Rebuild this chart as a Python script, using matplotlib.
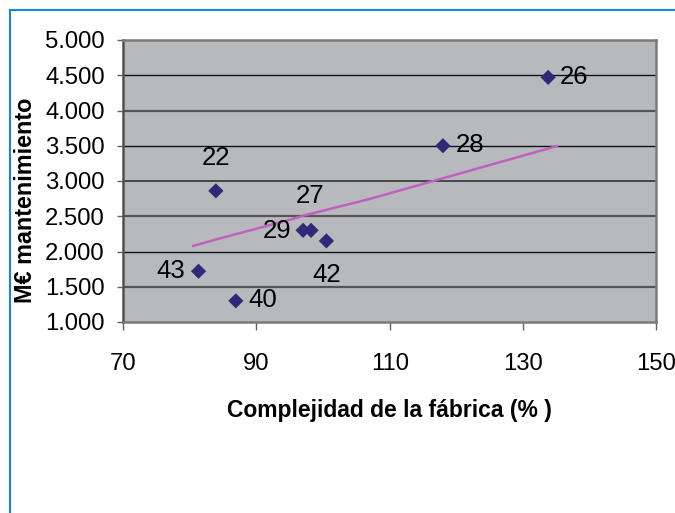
import matplotlib
matplotlib.use("Agg")
import matplotlib.pyplot as plt
from matplotlib.lines import Line2D

plt.rcParams['font.family'] = ['Liberation Sans', 'DejaVu Sans']

# Plant complexity (%) vs maintenance cost (M€), labelled by plant id
plant_ids = ["26", "28", "22", "29", "27", "42", "43", "40"]
complexity = [133.8, 118.0, 83.9, 97.0, 98.2, 100.5, 81.3, 86.9]
maintenance = [4470, 3500, 2860, 2300, 2300, 2150, 1720, 1300]

# Trend line drawn through the cloud
trend_x = [80.5, 84.5, 95.0, 97.5, 107.0, 135.1]
trend_y = [2080, 2185, 2450, 2520, 2745, 3495]

x_ticks = [70, 90, 110, 130, 150]
y_ticks = [1000, 1500, 2000, 2500, 3000, 3500, 4000, 4500, 5000]

# label offsets (pixels) from each marker
label_offsets = {
    "26": (26, 0), "28": (27, 1), "22": (0, 33), "29": (-26, -1),
    "27": (-1, 34), "42": (0, -34), "43": (-28, 0), "40": (27, 1),
}

W, H = 675, 513
fig = plt.figure(figsize=(W / 100, H / 100), dpi=100)
fig.patch.set_facecolor("white")

left, right, top, bottom = 123.3, 656, 40, 322
ax = fig.add_axes([left / W, 1 - bottom / H, (right - left) / W, (bottom - top) / H])
ax.set_facecolor("#b8b9bd")

ax.set_xlim(70, 150)
ax.set_ylim(1000, 5000)
ax.set_xticks(x_ticks)
ax.set_yticks(y_ticks)
ax.set_xticklabels([str(v) for v in x_ticks])
ax.set_yticklabels([f"{v:,}".replace(",", ".") for v in y_ticks])

# horizontal gridlines, alternating heavier grey and thin black strokes
grid_styles = {
    1500: ("#555555", 1.6), 2000: ("#111111", 1.0), 2500: ("#555555", 1.6),
    3000: ("#333333", 1.2), 3500: ("#111111", 1.0), 4000: ("#555555", 1.6),
    4500: ("#111111", 1.0),
}
for v in y_ticks[1:-1]:
    c, w = grid_styles[v]
    ax.axhline(v, color=c, lw=w, zorder=1)

for side in ["left", "right", "top", "bottom"]:
    ax.spines[side].set_color("#7a7a7a")
    ax.spines[side].set_linewidth(1.8)
ax.spines["left"].set_color("#505050")

ax.tick_params(axis="y", direction="out", length=4.3, width=1, color="#606060",
               pad=9, labelsize=17.2)
ax.tick_params(axis="x", direction="out", length=5.5, width=1, color="#606060",
               pad=17, labelsize=17.2)

ax.plot(trend_x, trend_y, color="#c060c0", lw=1.8, zorder=2)
ax.scatter(complexity, maintenance, marker="D", s=60, color="#2e2a78",
           edgecolors="none", zorder=3)

for pid, x, y in zip(plant_ids, complexity, maintenance):
    dx, dy = label_offsets[pid]
    ax.annotate(pid, (x, y), xytext=(dx, dy), textcoords="offset pixels",
                ha="center", va="center", fontsize=18.5, color="black", zorder=4)

fig.text(389.5 / W, 1 - 410 / H, "Complejidad de la fábrica (% )",
         ha="center", va="center", fontsize=16.5, fontweight="bold")
fig.text(26 / W, 1 - 200 / H, "M€ mantenimiento", rotation=90,
         ha="center", va="center", fontsize=16.8, fontweight="bold")

# blue frame around the chart
frame = "#1787d8"
fig.add_artist(Line2D([10 / W, 1.0], [1 - 10 / H, 1 - 10 / H],
                      transform=fig.transFigure, color=frame, lw=1.5))
fig.add_artist(Line2D([10 / W, 10 / W], [1 - 10 / H, 0.0],
                      transform=fig.transFigure, color=frame, lw=1.5))

fig.savefig("out.png", dpi=100)
